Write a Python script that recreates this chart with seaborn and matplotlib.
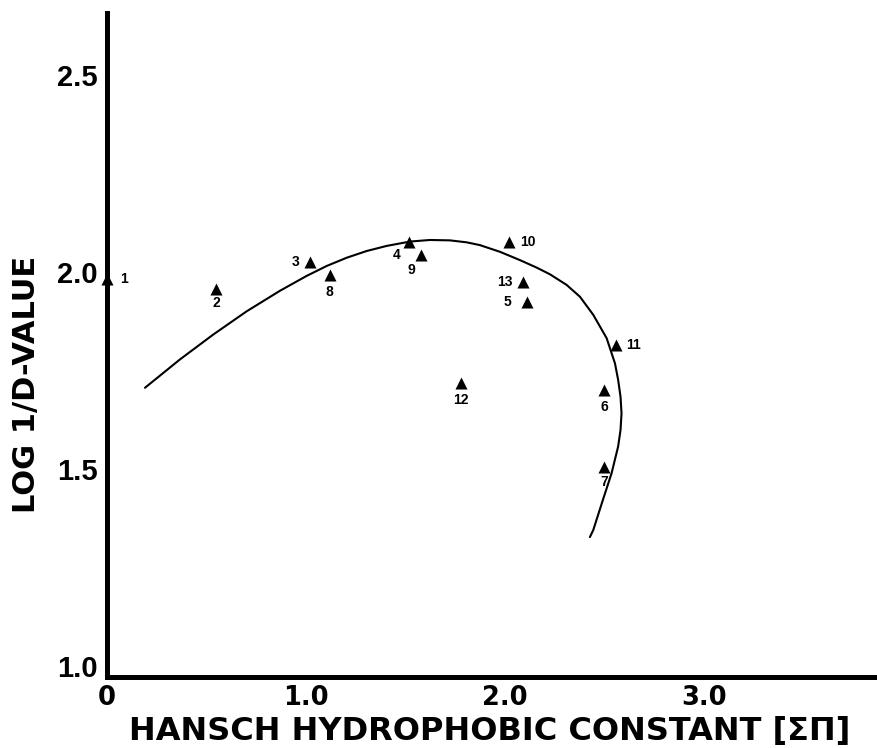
import matplotlib
matplotlib.use("Agg")
import matplotlib.pyplot as plt
import seaborn as sns
import pandas as pd

# --- data ---
point_ids = ["1", "2", "3", "4", "5", "6", "7", "8", "9", "10", "11", "12", "13"]
pi_values = [0.0, 0.55, 1.02, 1.52, 2.11, 2.50, 2.50, 1.12, 1.58, 2.02, 2.56, 1.78, 2.09]
log_inv_d = [2.01, 1.985, 2.053, 2.104, 1.952, 1.728, 1.533, 2.02, 2.071, 2.104, 1.843, 1.746, 2.003]

curve_x = [0.191, 0.367, 0.534, 0.702, 0.869, 1.004, 1.104, 1.205, 1.305, 1.406, 1.523,
           1.623, 1.724, 1.808, 1.874, 1.975, 2.075, 2.159, 2.226, 2.310, 2.377, 2.444,
           2.511, 2.553, 2.569, 2.581, 2.586, 2.581, 2.569, 2.536, 2.494, 2.444, 2.427]
curve_y = [1.734, 1.806, 1.869, 1.928, 1.980, 2.018, 2.043, 2.064, 2.081, 2.094, 2.105,
           2.109, 2.108, 2.103, 2.096, 2.079, 2.058, 2.039, 2.022, 1.995, 1.965, 1.919,
           1.860, 1.796, 1.754, 1.711, 1.669, 1.627, 1.585, 1.517, 1.452, 1.373, 1.355]

x_ticks = [0, 0.5, 1.0, 1.5, 2.0, 2.5, 3.0, 3.5]
x_tick_labels = ["0", "", "1.0", "", "2.0", "", "3.0", ""]
y_ticks = [1.0, 1.5, 2.0, 2.5]
y_tick_labels = ["1.0", "1.5", "2.0", "2.5"]

# label offsets (points) for the point numbers
label_offsets = {
    "1": (12, 0), "2": (0, -10), "3": (-10, 0), "4": (-9, -9.5), "5": (-14, 0),
    "6": (0, -12), "7": (0, -11), "8": (0, -12), "9": (-7, -11), "10": (14, 0),
    "11": (12, 0), "12": (0, -12), "13": (-13, 0),
}

sns.set_style("white")
plt.rcParams["font.family"] = ["Liberation Sans", "DejaVu Sans"]
plt.rcParams.update({
    "text.color": "black", "axes.labelcolor": "black",
    "xtick.color": "black", "ytick.color": "black",
    "xtick.labelcolor": "black", "ytick.labelcolor": "black",
})

fig = plt.figure(figsize=(8.77, 7.48), dpi=100)
ax = fig.add_axes([107 / 877, 71 / 748, 770 / 877, 664 / 748])

pts = pd.DataFrame({"id": point_ids, "x": pi_values, "y": log_inv_d})
curve = pd.DataFrame({"x": curve_x, "y": curve_y})

sns.lineplot(data=curve, x="x", y="y", sort=False, estimator=None, color="black",
             linewidth=1.5, ax=ax)
sns.scatterplot(data=pts, x="x", y="y", marker="^", color="black", s=75,
                edgecolor="black", linewidth=0, ax=ax, clip_on=False, zorder=4)

for pid, x, y in zip(point_ids, pi_values, log_inv_d):
    dx, dy = label_offsets[pid]
    ax.annotate(pid, (x, y), xytext=(dx, dy), textcoords="offset points",
                ha="center", va="center", fontsize=10, fontweight="bold", color="black")

ax.set_xlim(0, 3.87)
ax.set_ylim(1.0, 2.685)

for s in ["top", "right"]:
    ax.spines[s].set_visible(False)
for s in ["left", "bottom"]:
    ax.spines[s].set_linewidth(3.6)
    ax.spines[s].set_color("black")

ax.set_xticks(x_ticks)
ax.set_xticklabels(x_tick_labels, fontsize=18.5, fontweight="bold", family="DejaVu Sans")
ax.set_yticks(y_ticks)
ax.set_yticklabels(y_tick_labels, fontsize=21, fontweight="bold", va="baseline")
ax.tick_params(axis="both", direction="in", length=6, width=1.2, color="black")
ax.tick_params(axis="x", pad=6)
ax.tick_params(axis="y", pad=6.5)

ax.set_xlabel("HANSCH HYDROPHOBIC CONSTANT [ΣΠ]", fontsize=23, fontweight="bold",
              family="DejaVu Sans")
ax.xaxis.set_label_coords(0.497, -0.058)
ax.set_ylabel("LOG 1/D-VALUE", fontsize=22, fontweight="bold", family="DejaVu Sans")
ax.yaxis.set_label_coords(-0.086, 0.441)

fig.savefig("out.png", dpi=100)
